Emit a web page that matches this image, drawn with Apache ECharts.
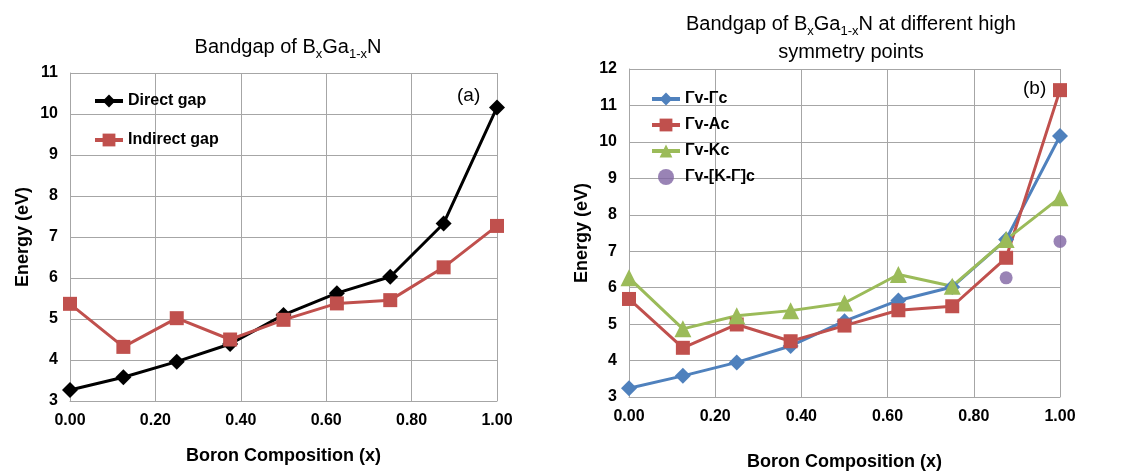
<!DOCTYPE html>
<html>
<head>
<meta charset="utf-8">
<script src="https://cdn.jsdelivr.net/npm/echarts@6/dist/echarts.min.js"></script>
<style>
  html, body { margin: 0; padding: 0; background: #fff; }
  #chart { width: 1122px; height: 473px; }
</style>
</head>
<body>
<div id="chart"></div>
<script>
// boron composition (x) for every calculated point
const composition = [0, 0.125, 0.25, 0.375, 0.5, 0.625, 0.75, 0.875, 1.0];

// (a) bandgap
const directGap = [3.27, 3.58, 3.96, 4.39, 5.1, 5.63, 6.03, 7.33, 10.16];
const indirectGap = [5.37, 4.32, 5.02, 4.5, 4.98, 5.38, 5.46, 6.26, 7.27];

// (b) high symmetry points
const gammaGamma = [3.24, 3.58, 3.95, 4.4, 5.08, 5.65, 6.02, 7.32, 10.16];
const gammaA = [5.69, 4.35, 4.99, 4.53, 4.96, 5.38, 5.49, 6.82, 11.42];
const gammaK = [6.27, 4.87, 5.23, 5.37, 5.58, 6.36, 6.04, 7.32, 8.47];
const kGammaX = [0.875, 1.0];
const kGamma = [6.27, 7.27];

const xTicks = { min: 0, max: 1, interval: 0.2 };

const pair = (xs, ys) => xs.map((x, i) => [x, ys[i]]);

const FONT = 'Liberation Sans, Arial, sans-serif';
const GRID_COLOR = '#a6a6a6';
const BLUE = '#4f81bd';
const RED = '#c0504d';
const GREEN = '#9bbb59';
const PURPLE = '#8064a2';

const titleRich = {
  t: { fontSize: 20, fontWeight: 'normal', fontFamily: FONT, color: '#000', lineHeight: 28 },
  s: { fontSize: 13, fontWeight: 'normal', fontFamily: FONT, color: '#000', lineHeight: 10, verticalAlign: 'bottom' },
};

function xAxisFor(gridIndex, nameGap) {
  return {
    type: 'value', gridIndex, ...xTicks,
    name: 'Boron Composition (x)', nameLocation: 'middle', nameGap,
    nameTextStyle: { fontSize: 18, fontWeight: 'bold', fontFamily: FONT, color: '#000' },
    axisLine: { show: true, lineStyle: { color: GRID_COLOR } },
    axisTick: { show: false },
    axisLabel: {
      fontSize: 16, fontWeight: 'bold', fontFamily: FONT, color: '#000', margin: 12,
      formatter: (v) => v.toFixed(2),
    },
    splitLine: { show: true, lineStyle: { color: GRID_COLOR } },
  };
}

function yAxisFor(gridIndex, max) {
  return {
    type: 'value', gridIndex, min: 3, max, interval: 1,
    name: 'Energy (eV)', nameLocation: 'middle', nameGap: 38, nameRotate: 90,
    nameTextStyle: { fontSize: 18, fontWeight: 'bold', fontFamily: FONT, color: '#000' },
    axisLine: { show: true, lineStyle: { color: GRID_COLOR } },
    axisTick: { show: false },
    axisLabel: { fontSize: 16, fontWeight: 'bold', fontFamily: FONT, color: '#000', margin: 12 },
    splitLine: { show: true, lineStyle: { color: GRID_COLOR } },
  };
}

function lineSeries(name, data, color, symbol, size, axis) {
  return {
    name, type: 'line', data,
    xAxisIndex: axis, yAxisIndex: axis,
    symbol, symbolSize: size,
    itemStyle: { color },
    lineStyle: { color, width: 3 },
    z: 3,
  };
}

const legendText = { fontSize: 16, fontWeight: 'bold', fontFamily: FONT, color: '#000' };

const chart = echarts.init(document.getElementById('chart'), null, { renderer: 'canvas' });
chart.setOption({
  backgroundColor: '#fff',
  animation: false,
  title: [
    {
      text: '{t|Bandgap of B}{s|x}{t|Ga}{s|1-x}{t|N}',
      left: 283, top: 28, textAlign: 'center',
      textStyle: { rich: titleRich },
    },
    {
      text: '{t|Bandgap of B}{s|x}{t|Ga}{s|1-x}{t|N at different high}\n{t|symmetry points}',
      left: 846, top: 5, textAlign: 'center',
      textStyle: { rich: titleRich, align: 'center' },
    },
  ],
  grid: [
    { left: 70, top: 73, width: 427, height: 328, outerBoundsMode: 'none' },
    { left: 629, top: 69, width: 431, height: 328, outerBoundsMode: 'none' },
  ],
  xAxis: [xAxisFor(0, 46), xAxisFor(1, 56)],
  yAxis: [yAxisFor(0, 11), yAxisFor(1, 12)],
  legend: [
    {
      data: ['Direct gap', 'Indirect gap'],
      orient: 'vertical', left: 88, top: 88,
      itemWidth: 28, itemHeight: 16, itemGap: 23,
      lineStyle: { width: 4 },
      textStyle: legendText,
    },
    {
      data: ['Γv-Γc', 'Γv-Ac', 'Γv-Kc', 'Γv-[K-Γ]c'],
      orient: 'vertical', left: 645, top: 86,
      itemWidth: 28, itemHeight: 16, itemGap: 10,
      lineStyle: { width: 4 },
      textStyle: legendText,
    },
  ],
  graphic: [
    { type: 'text', left: 457, top: 86, style: { text: '(a)', fontSize: 19, fontFamily: FONT, fill: '#000' } },
    { type: 'text', left: 1023, top: 79, style: { text: '(b)', fontSize: 19, fontFamily: FONT, fill: '#000' } },
  ],
  series: [
    lineSeries('Direct gap', pair(composition, directGap), '#000', 'diamond', 16, 0),
    lineSeries('Indirect gap', pair(composition, indirectGap), RED, 'rect', 14, 0),
    lineSeries('Γv-Γc', pair(composition, gammaGamma), BLUE, 'diamond', 16, 1),
    lineSeries('Γv-Ac', pair(composition, gammaA), RED, 'rect', 14, 1),
    lineSeries('Γv-Kc', pair(composition, gammaK), GREEN, 'triangle', 17, 1),
    {
      name: 'Γv-[K-Γ]c', type: 'scatter', data: pair(kGammaX, kGamma),
      xAxisIndex: 1, yAxisIndex: 1,
      symbol: 'circle', symbolSize: 13, itemStyle: { color: PURPLE }, z: 4,
    },
  ],
});
</script>
</body>
</html>
